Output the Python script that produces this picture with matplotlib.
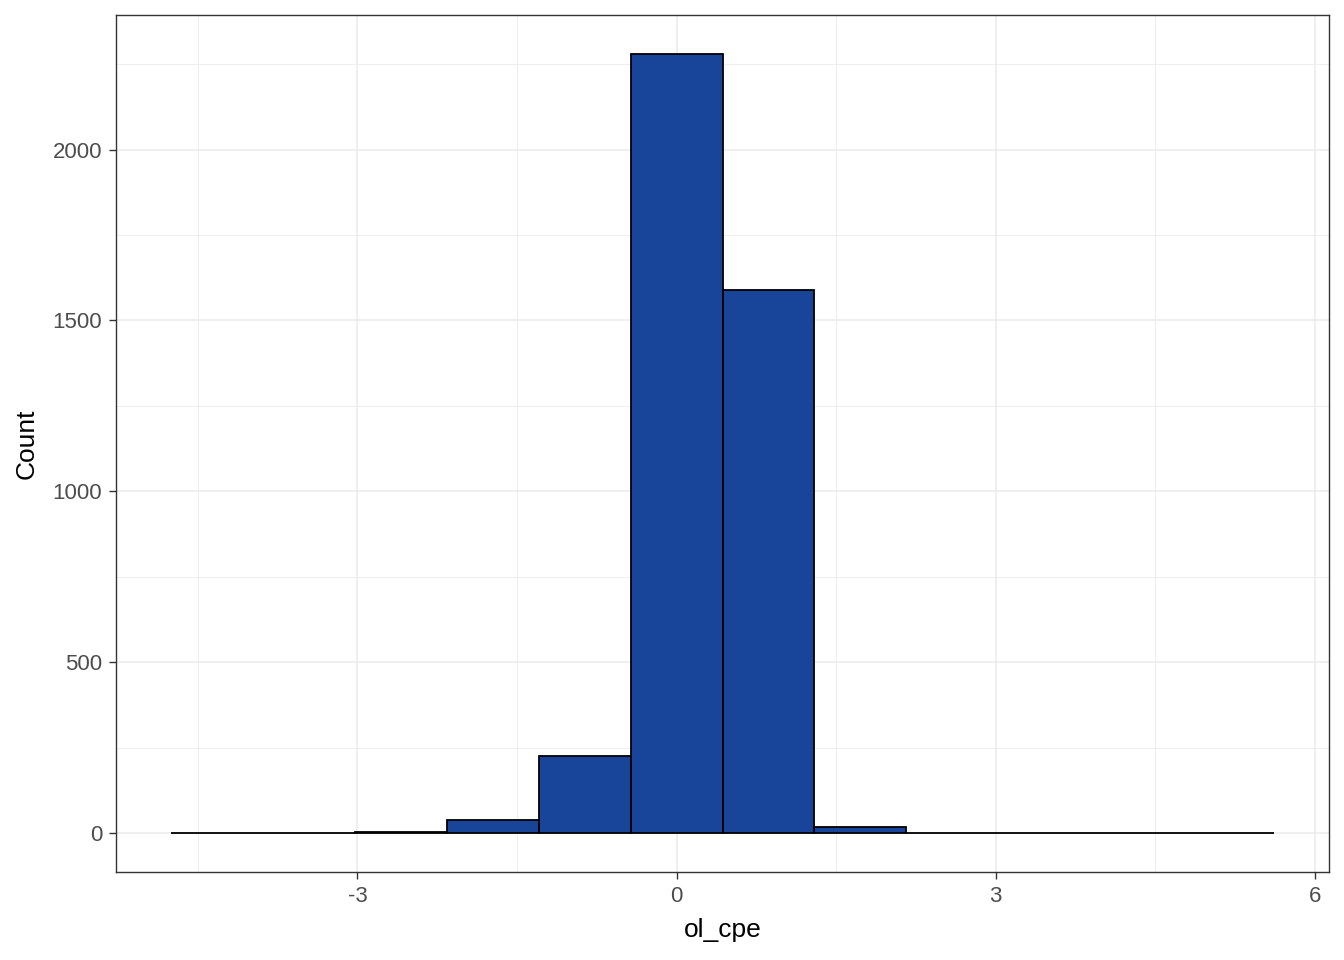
import numpy as np
import matplotlib
matplotlib.use("Agg")
import matplotlib.pyplot as plt
from matplotlib.ticker import MultipleLocator

plt.rcParams['font.family'] = ['Liberation Sans', 'DejaVu Sans']
plt.rcParams['axes.unicode_minus'] = False

bin_width = 0.864
first_edge = -0.432 - 5 * 0.864
counts = [0, 0, 4, 38, 225, 2280, 1588, 17, 0, 0, 0, 0]
x_ticks = [-3, 0, 3, 6]
y_ticks = [0, 500, 1000, 1500, 2000]

edges = first_edge + bin_width * np.arange(len(counts) + 1)
lefts = edges[:-1]

fig = plt.figure(figsize=(13.44, 9.6), dpi=100)
ax = fig.add_axes([116/1344, 1 - 872/960, (1329-116)/1344, (872-15)/960])

ax.bar(lefts, counts, width=bin_width, align='edge', color='#18459A',
       edgecolor='black', linewidth=1.3, zorder=3)

xmin, xmax = edges[0], edges[-1]
xr = xmax - xmin
ax.set_xlim(xmin - 0.05 * xr, xmax + 0.05 * xr)
ymax = max(counts)
ax.set_ylim(-0.05 * ymax, ymax * 1.05)

ax.set_xticks(x_ticks)
ax.set_yticks(y_ticks)
ax.xaxis.set_minor_locator(MultipleLocator(1.5))
ax.yaxis.set_minor_locator(MultipleLocator(250))
ax.grid(which='major', color='#EBEBEB', linewidth=1.1, zorder=0)
ax.grid(which='minor', color='#EBEBEB', linewidth=0.6, zorder=0)
ax.set_axisbelow(True)
ax.tick_params(which='minor', length=0)
ax.tick_params(which='major', length=5, width=1.0, color='#333333',
               labelsize=16, labelcolor='#4D4D4D', pad=5)
for s in ax.spines.values():
    s.set_color('#333333')
    s.set_linewidth(1.0)

ax.set_xlabel('ol_cpe', fontsize=19, labelpad=8)
ax.set_ylabel('Count', fontsize=19, labelpad=10)

fig.savefig('out.png', dpi=100, facecolor='white')
